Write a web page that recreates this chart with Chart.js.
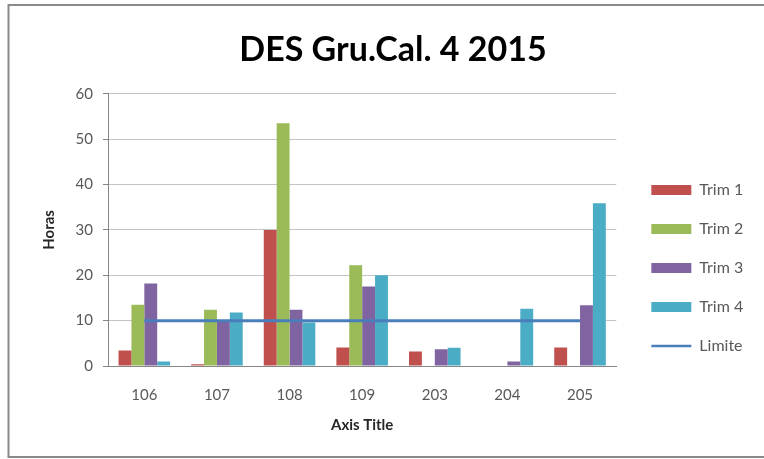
<!DOCTYPE html>
<html>
<head>
<meta charset="utf-8">
<script src="https://cdn.jsdelivr.net/npm/chart.js@4/dist/chart.umd.min.js"></script>
<style>
  html, body { margin: 0; padding: 0; background: #ffffff; }
  #wrap { width: 764px; height: 459px; }
</style>
</head>
<body>
<div id="wrap"><canvas id="c" width="764" height="459"></canvas></div>
<script>
// Rooms (categories) and hours per quarter
const rooms = ['106', '107', '108', '109', '203', '204', '205'];
const trim1 = [3.4, 0.4, 30.0, 4.1, 3.2, 0, 4.1];
const trim2 = [13.5, 12.4, 53.5, 22.2, 0, 0, 0];
const trim3 = [18.2, 10.0, 12.4, 17.5, 3.7, 1.0, 13.4];
const trim4 = [1.0, 11.8, 9.6, 20.0, 4.0, 12.6, 35.9];
const limite = [10, 10, 10, 10, 10, 10, 10];
const yTicks = [0, 10, 20, 30, 40, 50, 60];

const FONT = 'Lato, "Open Sans", sans-serif';
const TEXT_GREY = '#595959';

// Outer frame around the chart object
const framePlugin = {
  id: 'frame',
  beforeDraw(chart) {
    const ctx = chart.ctx;
    ctx.save();
    ctx.fillStyle = '#ffffff';
    ctx.fillRect(0, 0, chart.width, chart.height);
    ctx.strokeStyle = '#8a8a8a';
    ctx.lineWidth = 2;
    ctx.strokeRect(8.5, 5, chart.width + 10, chart.height - 7);
    ctx.restore();
  }
};

new Chart(document.getElementById('c'), {
  data: {
    labels: rooms,
    datasets: [
      { type: 'bar', label: 'Trim 1', data: trim1, backgroundColor: '#C0504D', order: 1 },
      { type: 'bar', label: 'Trim 2', data: trim2, backgroundColor: '#9BBB59', order: 1 },
      { type: 'bar', label: 'Trim 3', data: trim3, backgroundColor: '#8064A2', order: 1 },
      { type: 'bar', label: 'Trim 4', data: trim4, backgroundColor: '#4BACC6', order: 1 },
      { type: 'line', label: 'Limite', data: limite, borderColor: '#4A7EBB', backgroundColor: '#4A7EBB',
        borderWidth: 3, pointRadius: 0, fill: false, tension: 0, order: 0 }
    ]
  },
  options: {
    responsive: false,
    animation: false,
    layout: { padding: { left: 40, right: 18, top: 6, bottom: 20 } },
    datasets: {
      bar: { barPercentage: 1.0, categoryPercentage: 0.71, borderWidth: 0 }
    },
    scales: {
      x: {
        offset: true,
        grid: { display: false, drawTicks: false },
        border: { display: true, color: '#868686', width: 1 },
        ticks: { color: TEXT_GREY, font: { family: FONT, size: 15 }, padding: 20 },
        title: { display: true, text: 'Axis Title', color: '#262626',
                 font: { family: FONT, size: 15, weight: 'bold' }, padding: { top: 0, bottom: 5 } },
        afterFit(s) { s.height = 73; }
      },
      y: {
        min: 0, max: 60,
        afterBuildTicks(s) { s.ticks = yTicks.map(v => ({ value: v })); },
        grid: { color: '#c4c4c4', lineWidth: 1, drawTicks: true, tickLength: 5, tickColor: '#868686' },
        border: { display: true, color: '#868686', width: 1 },
        ticks: { color: TEXT_GREY, font: { family: FONT, size: 15 }, padding: 10 },
        title: { display: true, text: 'Horas', color: '#262626',
                 font: { family: FONT, size: 15, weight: 'bold' }, padding: { top: 0, bottom: 0 } },
        afterFit(s) { s.width = 68; }
      },
      gap: {
        type: 'linear', position: 'right', display: true,
        grid: { display: false, drawTicks: false },
        border: { display: false },
        ticks: { display: false },
        afterFit(s) { s.width = 12; }
      }
    },
    plugins: {
      title: {
        display: true,
        text: 'DES Gru.Cal. 4 2015',
        color: '#000000',
        font: { family: FONT, size: 34, weight: 'bold' },
        padding: { top: 24, bottom: 23 }
      },
      legend: {
        position: 'right',
        title: { display: true, text: ' ', color: 'rgba(0,0,0,0)', font: { size: 10 }, padding: { top: 79, bottom: 0 } },
        labels: {
          color: TEXT_GREY,
          font: { family: FONT, size: 16 },
          usePointStyle: true,
          pointStyleWidth: 40,
          boxHeight: 10,
          padding: 23,
          sort: (a, b) => a.datasetIndex - b.datasetIndex,
          generateLabels(chart) {
            const items = Chart.defaults.plugins.legend.labels.generateLabels(chart);
            return items.map(it => {
              const ds = chart.data.datasets[it.datasetIndex];
              if (ds.type === 'line') {
                it.pointStyle = 'line';
                it.strokeStyle = ds.borderColor;
                it.lineWidth = 2.5;
              } else {
                it.pointStyle = 'rect';
                it.fillStyle = ds.backgroundColor;
                it.lineWidth = 0;
              }
              it.fontColor = TEXT_GREY;
              return it;
            });
          }
        }
      },
      tooltip: { enabled: false }
    }
  },
  plugins: [framePlugin]
});
</script>
</body>
</html>
